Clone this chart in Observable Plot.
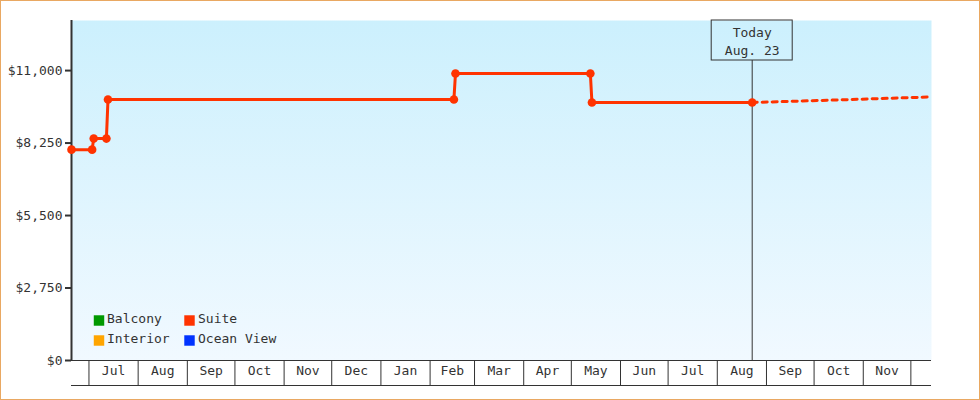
<!DOCTYPE html>
<html><head><meta charset="utf-8">
<script src="https://cdn.jsdelivr.net/npm/d3@7"></script>
<script src="https://cdn.jsdelivr.net/npm/@observablehq/plot@0.6"></script>
<style>
html,body{margin:0;padding:0;background:#fff;}
#chart{width:980px;height:400px;overflow:hidden;}
#chart svg{display:block;outline:1px solid #e9a862;outline-offset:-1px;}
</style></head><body><div id="chart"></div>
<script>
// ---- data ----
const suiteDates = ["2017-06-20","2017-07-03","2017-07-04","2017-07-12","2017-07-13","2018-02-16","2018-02-17","2018-05-13","2018-05-14","2018-08-23"];
const suitePrices = [8000, 8000, 8420, 8420, 9900, 9900, 10890, 10890, 9790, 9790];
const forecastDates = ["2018-08-23","2018-09-23","2018-10-23","2018-11-23","2018-12-14"];
const forecastPrices = [9790, 9845, 9900, 9960, 10000];
const monthLabels = ["Jul","Aug","Sep","Oct","Nov","Dec","Jan","Feb","Mar","Apr","May","Jun","Jul","Aug","Sep","Oct","Nov"];
const yTicks = [0, 2750, 5500, 8250, 11000];
const legendNames = ["Balcony","Interior","Suite","Ocean View"];
const legendColors = ["#009900","#ffa500","#ff3300","#0033ff"];
const todayDate = "2018-08-23";
const todayLabel = "Today\nAug. 23";
const xDomain = ["2017-06-20","2018-12-14"];
const yDomain = [0, 12900];

// ---- build ----
const suite = suiteDates.map((d, i) => ({date: new Date(d), price: suitePrices[i]}));
const forecast = forecastDates.map((d, i) => ({date: new Date(d), price: forecastPrices[i]}));
const monthStarts = d3.utcMonth.range(new Date("2017-07-01"), new Date("2018-12-02"));
const monthMids = monthStarts.slice(0, -1).map((d, i) => new Date((+d + +monthStarts[i + 1]) / 2));
const today = new Date(todayDate);
const ink = "#333";

const legendMarks = legendNames.flatMap((name, i) => {
  const col = Math.floor(i / 2), row = i % 2;
  return [
    Plot.dot([name], {frameAnchor: "bottom-left", dx: 27.5 + col * 90.5, dy: -40 + row * 20,
      symbol: "square", r: 5.9, fill: legendColors[i], stroke: "none"}),
    Plot.text([name], {frameAnchor: "bottom-left", dx: 35.5 + col * 91, dy: -37.5 + row * 20,
      text: d => d, textAnchor: "start", fill: ink})
  ];
});

const chart = Plot.plot({
  width: 980,
  height: 400,
  marginLeft: 71,
  marginRight: 49,
  marginTop: 20,
  marginBottom: 40,
  style: {fontFamily: "'DejaVu Sans Mono', monospace", fontSize: "13px", color: ink, background: "#fff"},
  x: {type: "utc", domain: xDomain.map(d => new Date(d))},
  y: {domain: yDomain},
  marks: [
    Plot.frame({fill: "url(#bggrad)", stroke: "none"}),
    Plot.ruleX([today], {insetTop: 40, stroke: ink, strokeWidth: 1}),
    Plot.rect([today], {x1: d => d, x2: d => d, insetLeft: -40.5, insetRight: -40.5, insetBottom: 300,
      fill: "none", stroke: ink, strokeWidth: 1}),
    Plot.text([todayLabel], {x: () => today, frameAnchor: "top", lineAnchor: "top", dy: 4,
      text: d => d, lineHeight: 1.38, fill: ink}),
    Plot.axisY({ticks: yTicks, tickSize: 6, tickPadding: 3, strokeWidth: 2,
      tickFormat: d => "$" + d3.format(",")(d), label: null}),
    Plot.ruleX([new Date(xDomain[0])], {stroke: ink, strokeWidth: 2}),
    Plot.ruleY([0], {stroke: ink, strokeWidth: 1}),
    Plot.ruleY([0], {stroke: ink, strokeWidth: 1, dy: 25}),
    Plot.axisX({ticks: monthStarts, tickSize: 25, tickFormat: () => "", label: null, stroke: ink}),
    Plot.text(monthMids, {x: d => d, frameAnchor: "bottom", dy: 14.5, text: (d, i) => monthLabels[i], fill: ink}),
    Plot.line(forecast, {x: "date", y: "price", stroke: "#ff3300", strokeWidth: 3, strokeDasharray: "5,5"}),
    Plot.line(suite, {x: "date", y: "price", stroke: "#ff3300", strokeWidth: 3}),
    Plot.dot(suite, {x: "date", y: "price", r: 4.3, fill: "#ff3300", stroke: "none"}),
    ...legendMarks
  ]
});

const defs = document.createElementNS("http://www.w3.org/2000/svg", "defs");
defs.innerHTML = '<linearGradient id="bggrad" x1="0" y1="0" x2="0" y2="1">' +
  '<stop offset="0" stop-color="#ccf0fd"/><stop offset="1" stop-color="#f1f9ff"/></linearGradient>';
chart.insertBefore(defs, chart.firstChild);
document.getElementById("chart").appendChild(chart);
</script></body></html>
